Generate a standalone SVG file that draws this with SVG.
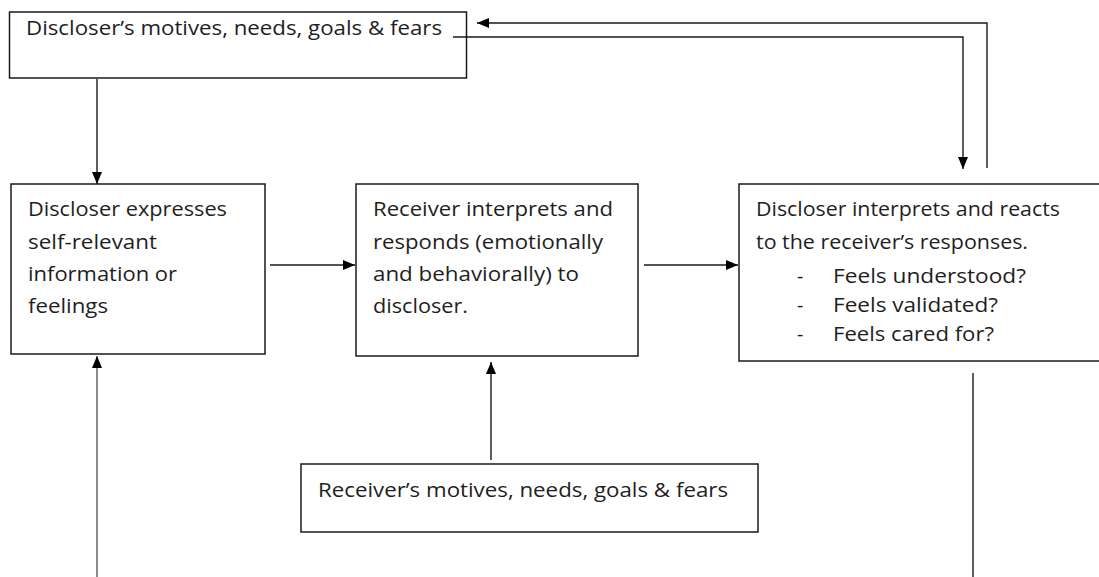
<svg xmlns="http://www.w3.org/2000/svg" width="1099" height="577" viewBox="0 0 1099 577">
<style>
.box{fill:#fff;stroke:#1a1a1a;stroke-width:1.5}
.t{font-family:"Open Sans","Liberation Sans",sans-serif;font-size:19.5px;fill:#1e1e1e}
.c{fill:none;stroke:#1a1a1a;stroke-width:1.4}
.g{fill:none;stroke:#6e6e6e;stroke-width:1.6}
</style>
<defs>
<marker id="ah" markerUnits="userSpaceOnUse" markerWidth="12" markerHeight="12" viewBox="0 0 12 12" refX="12" refY="6" orient="auto">
<path d="M0,1 L12,6 L0,11 Z" fill="#000"/>
</marker>
</defs>
<rect width="1099" height="577" fill="#fff"/>
<g id="n-discloser-motives">
<rect class="box" x="9.5" y="12" width="457" height="66"/>
<text class="t" x="26" y="35" textLength="416" lengthAdjust="spacingAndGlyphs">Discloser’s motives, needs, goals &amp; fears</text>
</g>
<g id="n-discloser-expresses">
<rect class="box" x="11" y="184" width="254" height="170"/>
<text class="t" x="28" y="216" textLength="199" lengthAdjust="spacingAndGlyphs">Discloser expresses</text>
<text class="t" x="28" y="248.5" textLength="129" lengthAdjust="spacingAndGlyphs">self-relevant</text>
<text class="t" x="28" y="280.5" textLength="149" lengthAdjust="spacingAndGlyphs">information or</text>
<text class="t" x="28" y="312.5" textLength="80" lengthAdjust="spacingAndGlyphs">feelings</text>
</g>
<g id="n-receiver-interprets">
<rect class="box" x="356" y="184" width="282" height="172"/>
<text class="t" x="373" y="216" textLength="240" lengthAdjust="spacingAndGlyphs">Receiver interprets and</text>
<text class="t" x="373" y="248.5" textLength="230" lengthAdjust="spacingAndGlyphs">responds (emotionally</text>
<text class="t" x="373" y="280.5" textLength="206" lengthAdjust="spacingAndGlyphs">and behaviorally) to</text>
<text class="t" x="373" y="312.5" textLength="95" lengthAdjust="spacingAndGlyphs">discloser.</text>
</g>
<g id="n-discloser-reacts">
<rect class="box" x="739" y="184" width="370" height="177"/>
<text class="t" x="756" y="216" textLength="304" lengthAdjust="spacingAndGlyphs">Discloser interprets and reacts</text>
<text class="t" x="756" y="249" textLength="272" lengthAdjust="spacingAndGlyphs">to the receiver’s responses.</text>
<text class="t" x="797" y="283">-</text>
<text class="t" x="833" y="283" textLength="193" lengthAdjust="spacingAndGlyphs">Feels understood?</text>
<text class="t" x="797" y="312">-</text>
<text class="t" x="833" y="312" textLength="165" lengthAdjust="spacingAndGlyphs">Feels validated?</text>
<text class="t" x="797" y="341">-</text>
<text class="t" x="833" y="341" textLength="161" lengthAdjust="spacingAndGlyphs">Feels cared for?</text>
</g>
<g id="n-receiver-motives">
<rect class="box" x="301" y="464" width="457" height="68"/>
<text class="t" x="318" y="497" textLength="410" lengthAdjust="spacingAndGlyphs">Receiver’s motives, needs, goals &amp; fears</text>
</g>
<g id="connectors">
<line class="c" x1="97" y1="79" x2="97" y2="184" marker-end="url(#ah)"/>
<line class="c" x1="270" y1="265" x2="355" y2="265" marker-end="url(#ah)"/>
<line class="c" x1="644" y1="265" x2="738" y2="265" marker-end="url(#ah)"/>
<line class="c" x1="491" y1="460" x2="491" y2="362" marker-end="url(#ah)"/>
<line class="g" x1="97" y1="577" x2="97" y2="356" marker-end="url(#ah)"/>
<line class="c" x1="973" y1="373" x2="973" y2="577"/>
<polyline class="c" points="987,168 987,23 477,23" marker-end="url(#ah)"/>
<polyline class="c" points="453,37 963,37 963,169" marker-end="url(#ah)"/>
</g>
</svg>
